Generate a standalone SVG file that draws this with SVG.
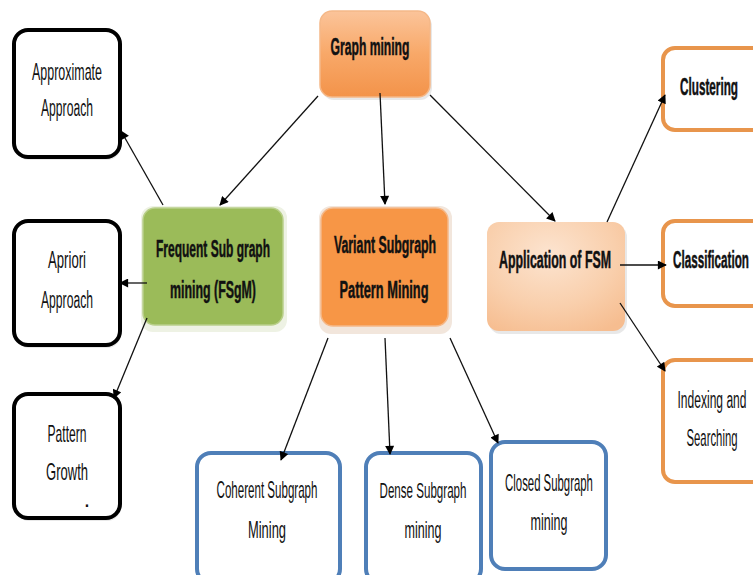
<svg xmlns="http://www.w3.org/2000/svg" width="753" height="575" viewBox="0 0 753 575">
<defs>
<style>
text{font-family:"Liberation Sans",Arial,sans-serif;font-size:23px;fill:#111;text-anchor:middle;dominant-baseline:central}
.b{font-weight:bold;stroke:#111;stroke-width:0.5}
.blk{fill:#fff;stroke:#000;stroke-width:4}
.org{fill:#fff;stroke:#e8954c;stroke-width:4}
.blu{fill:#fff;stroke:#4f7fb8;stroke-width:4}
.sh{fill:#d9d9d9;opacity:0.6}
.c line{stroke:#111;stroke-width:1.3;marker-end:url(#ah)}
</style>
<marker id="ah" viewBox="0 0 10 10" refX="9" refY="5" markerWidth="10" markerHeight="9" markerUnits="userSpaceOnUse" orient="auto">
<path d="M0,0 L10,5 L0,10 z" fill="#000"/>
</marker>
<linearGradient id="gOr" x1="0" y1="0" x2="0" y2="1">
<stop offset="0" stop-color="#fbc49a"/>
<stop offset="0.5" stop-color="#f8a868"/>
<stop offset="1" stop-color="#f3934a"/>
</linearGradient>
<radialGradient id="gPe" cx="0.45" cy="0.3" r="0.8">
<stop offset="0" stop-color="#fce4d0"/>
<stop offset="0.6" stop-color="#f9cfac"/>
<stop offset="1" stop-color="#f6bd90"/>
</radialGradient>
</defs>

<g id="graph-mining">
<rect x="322" y="14" width="110" height="86" rx="12" class="sh"/>
<rect x="320" y="11" width="110" height="86" rx="12" fill="url(#gOr)" stroke="#f5b888" stroke-width="1.5"/>
<text transform="translate(370,47) scale(0.528,1)" class="b">Graph mining</text>
</g>

<g id="approximate">
<rect x="15" y="33" width="106" height="127" rx="14" class="sh"/>
<rect x="14" y="30" width="106" height="127" rx="14" class="blk"/>
<text transform="translate(67,72) scale(0.542,1)">Approximate</text>
<text transform="translate(67,108) scale(0.528,1)">Approach</text>
</g>

<g id="apriori">
<rect x="15" y="224" width="106" height="124" rx="14" class="sh"/>
<rect x="14" y="221" width="106" height="124" rx="14" class="blk"/>
<text transform="translate(67,260) scale(0.572,1)">Apriori</text>
<text transform="translate(67,300) scale(0.528,1)">Approach</text>
</g>

<g id="pattern-growth">
<rect x="15" y="397" width="106" height="124" rx="14" class="sh"/>
<rect x="14" y="394" width="106" height="124" rx="14" class="blk"/>
<text transform="translate(67,434) scale(0.526,1)">Pattern</text>
<text transform="translate(67,472) scale(0.567,1)">Growth</text>
<text x="87" y="499" font-size="10">.</text>
</g>

<g id="fsgm">
<rect x="141" y="206" width="146" height="126" rx="12" fill="#eef2e4"/>
<rect x="143" y="208" width="140" height="117" rx="12" fill="#9bbb59" stroke="#b9cf8a" stroke-width="1.5"/>
<text transform="translate(213,249) scale(0.522,1)" class="b">Frequent Sub graph</text>
<text transform="translate(213,290) scale(0.538,1)" class="b">mining (FSgM)</text>
</g>

<g id="variant">
<rect x="319" y="206" width="133" height="128" rx="12" fill="#f2e6dc"/>
<rect x="321" y="208" width="127" height="118" rx="12" fill="#f79646" stroke="#f5b888" stroke-width="1.5"/>
<text transform="translate(385,245) scale(0.537,1)" class="b">Variant Subgraph</text>
<text transform="translate(384,290) scale(0.557,1)" class="b">Pattern Mining</text>
</g>

<g id="application">
<rect x="489" y="225" width="138" height="109" rx="12" class="sh"/>
<rect x="487" y="222" width="138" height="109" rx="12" fill="url(#gPe)"/>
<text transform="translate(555,260) scale(0.538,1)" class="b">Application of FSM</text>
</g>

<g id="clustering">
<rect x="663" y="48" width="110" height="82" rx="12" class="org"/>
<text transform="translate(709,87) scale(0.51,1)" class="b">Clustering</text>
</g>

<g id="classification">
<rect x="663" y="221" width="110" height="85" rx="12" class="org"/>
<text transform="translate(711,260) scale(0.508,1)" class="b">Classification</text>
</g>

<g id="indexing">
<rect x="663" y="360" width="110" height="122" rx="12" class="org"/>
<text transform="translate(712,400) scale(0.524,1)">Indexing and</text>
<text transform="translate(712,438) scale(0.493,1)">Searching</text>
</g>

<g id="coherent">
<rect x="197" y="453" width="143" height="130" rx="14" class="blu"/>
<text transform="translate(267,490) scale(0.503,1)">Coherent Subgraph</text>
<text transform="translate(267,530) scale(0.561,1)">Mining</text>
</g>

<g id="dense">
<rect x="366" y="453" width="115" height="130" rx="14" class="blu"/>
<text transform="translate(423,490) scale(0.504,1)">Dense Subgraph</text>
<text transform="translate(423,530) scale(0.546,1)">mining</text>
</g>

<g id="closed">
<rect x="491" y="442" width="115" height="127" rx="14" class="blu"/>
<text transform="translate(549,483) scale(0.495,1)">Closed Subgraph</text>
<text transform="translate(549,522) scale(0.546,1)">mining</text>
</g>

<g class="c" id="connectors">
<line x1="318" y1="96" x2="220" y2="205"/>
<line x1="380" y1="93" x2="385" y2="204"/>
<line x1="430" y1="95" x2="555" y2="221"/>
<line x1="163" y1="205" x2="121" y2="131"/>
<line x1="147" y1="283" x2="120" y2="283"/>
<line x1="147" y1="318" x2="114" y2="398"/>
<line x1="328" y1="338" x2="281" y2="460"/>
<line x1="385" y1="338" x2="390" y2="454"/>
<line x1="450" y1="338" x2="498" y2="443"/>
<line x1="607" y1="222" x2="665" y2="95"/>
<line x1="620" y1="265" x2="666" y2="265"/>
<line x1="620" y1="303" x2="665" y2="371"/>
</g>
</svg>
